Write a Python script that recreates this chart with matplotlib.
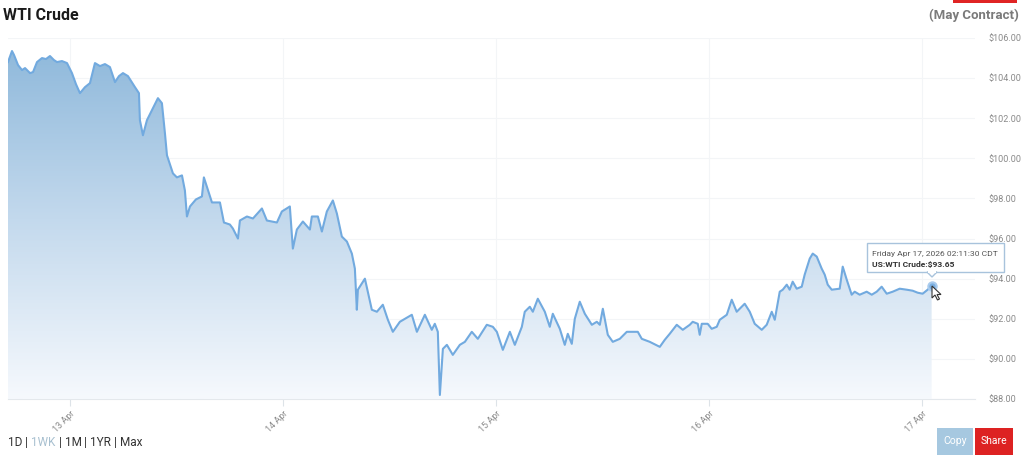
import numpy as np
import pandas as pd
import matplotlib
matplotlib.use("Agg")
import matplotlib.pyplot as plt
import matplotlib.dates as mdates
from matplotlib.colors import LinearSegmentedColormap
from matplotlib.patches import Rectangle, Polygon

plt.rcParams['font.family'] = ['Roboto', 'DejaVu Sans']

# hours since the Sunday 17:00 CDT session open (12 Apr 2026)
hours = [0.00, 0.45, 0.68, 1.13, 1.58, 1.92, 2.48, 2.82, 3.27, 3.83, 4.28, 4.73, 5.18, 5.52,
         6.08, 6.65, 7.21, 7.66, 8.11, 8.68, 9.24, 9.80, 10.37, 10.93, 11.49, 12.06, 12.51,
         12.96, 13.52, 14.31, 14.76, 14.87, 15.21, 15.66, 16.23, 16.90, 17.35, 17.69, 17.92,
         18.59, 19.04, 19.61, 19.94, 20.17, 20.51, 21.18, 21.86, 22.08, 22.99, 23.89, 24.34,
         25.01, 25.35, 25.92, 26.14, 26.93, 27.61, 28.62, 29.18, 30.31, 30.87, 31.77, 32.11,
         32.56, 33.24, 34.03, 34.25, 34.93, 35.38, 35.94, 36.62, 37.07, 37.63, 38.20, 38.76,
         39.10, 39.32, 39.44, 40.23, 40.56, 41.01, 41.58, 42.25, 42.82, 43.38, 44.17, 45.52,
         46.09, 46.99, 47.77, 48.11, 48.45, 48.68, 49.02, 49.47, 50.14, 50.93, 51.50, 52.28,
         52.96, 53.97, 54.65, 55.10, 55.78, 56.57, 57.13, 57.92, 58.25, 58.82, 59.16, 59.72,
         60.51, 61.07, 61.41, 62.20, 62.76, 63.10, 63.55, 63.89, 64.45, 65.02, 65.81, 66.37,
         66.71, 67.05, 67.61, 68.17, 68.96, 69.75, 70.99, 71.44, 72.34, 73.47, 74.03, 74.59,
         75.38, 76.06, 76.85, 77.18, 77.75, 77.97, 78.20, 78.87, 79.32, 79.89, 80.23, 81.02,
         81.58, 82.14, 83.04, 83.61, 84.17, 84.96, 85.52, 86.09, 86.43, 86.99, 87.33, 87.78,
         88.11, 88.45, 88.90, 89.47, 89.80, 90.37, 90.71, 91.16, 91.72, 92.06, 92.40, 92.85,
         93.75, 94.09, 94.54, 95.10, 95.44, 96.00, 96.79, 97.36, 97.92, 98.48, 99.05, 99.72,
         100.51, 101.30, 101.97, 102.54, 103.10, 103.66, 104.11]
prices = [104.80, 105.35, 105.15, 104.65, 104.40, 104.50, 104.25, 104.30, 104.80, 105.00, 104.95,
          105.10, 104.90, 104.80, 104.85, 104.75, 104.25, 103.70, 103.25, 103.55, 103.75, 104.75,
          104.60, 104.70, 104.55, 103.80, 104.10, 104.25, 104.10, 103.55, 103.25, 101.90, 101.15,
          101.90, 102.40, 103.00, 102.75, 101.25, 100.15, 99.25, 99.05, 99.15, 98.40, 97.10, 97.60,
          97.95, 98.10, 99.05, 97.80, 97.80, 96.80, 96.70, 96.50, 96.00, 96.90, 97.10, 97.00, 97.50,
          96.90, 96.80, 97.35, 97.60, 95.50, 96.45, 96.85, 96.45, 97.10, 97.10, 96.35, 97.35, 97.90,
          97.25, 96.10, 95.85, 95.25, 94.50, 92.45, 93.45, 94.00, 93.35, 92.45, 92.35, 92.70, 91.95,
          91.35, 91.85, 92.20, 91.35, 92.20, 91.45, 91.75, 91.35, 88.20, 90.50, 90.70, 90.20, 90.70,
          90.85, 91.35, 91.00, 91.70, 91.60, 91.35, 90.45, 91.35, 90.70, 91.60, 92.35, 92.60, 92.35,
          93.00, 92.35, 91.60, 92.25, 91.50, 90.70, 91.25, 90.75, 92.00, 92.85, 92.25, 91.70, 91.85,
          91.70, 92.50, 91.20, 90.85, 91.00, 91.35, 91.35, 91.00, 90.85, 90.60, 90.95, 91.25, 91.70,
          91.45, 91.70, 91.85, 91.75, 91.20, 91.75, 91.75, 91.50, 91.60, 91.95, 92.20, 92.95, 92.35,
          92.75, 92.35, 91.75, 91.45, 91.70, 92.35, 91.95, 93.35, 93.45, 93.70, 93.45, 93.85, 93.50,
          93.60, 94.20, 95.00, 95.25, 95.10, 94.50, 94.20, 93.70, 93.45, 93.50, 94.60, 93.95, 93.20,
          93.35, 93.20, 93.35, 93.20, 93.35, 93.60, 93.25, 93.35, 93.50, 93.45, 93.40, 93.30, 93.25,
          93.45, 93.65]
tick_days = ['2026-04-13', '2026-04-14', '2026-04-15', '2026-04-16', '2026-04-17']
y_ticks = [88, 90, 92, 94, 96, 98, 100, 102, 104, 106]
ranges = ['1D', '1WK', '1M', '1YR', 'Max']

start = pd.Timestamp('2026-04-12 17:00')
times = [start + pd.Timedelta(hours=h) for h in hours]
tx = mdates.date2num(times)
x0 = mdates.date2num(start)
x1 = mdates.date2num(start + pd.Timedelta(hours=109))


def fx(px):
    return px / 1024


def fy(py):
    return 1 - py / 462


fig = plt.figure(figsize=(10.24, 4.62), dpi=100)
ax = fig.add_axes([fx(8), fy(399), fx(975 - 8), (399 - 38) / 462])
ax.set_xlim(x0, x1)
ax.set_ylim(88, 106)

# gradient fill under the line
cmap = LinearSegmentedColormap.from_list('fill', ['#f6f9fd', '#c3d9ed', '#8cb7da'])
grad = np.linspace(0, 1, 256).reshape(-1, 1)
img = ax.imshow(grad, extent=[x0, x1, 88, 106], origin='lower', aspect='auto',
                cmap=cmap, zorder=1)
verts = [(tx[0], 88)] + list(zip(tx, prices)) + [(tx[-1], 88)]
poly = Polygon(verts, closed=True, facecolor='none', edgecolor='none')
ax.add_patch(poly)
img.set_clip_path(poly)
ax.plot(tx, prices, color='#72aadf', lw=1.5, zorder=3, solid_joinstyle='round')

# last point marker
ax.plot(tx[-1], prices[-1], 'o', ms=6, color='#7aaee0', mec='#a9cbed', mew=1.5, zorder=5)

# axes styling
for s in ['top', 'left', 'right']:
    ax.spines[s].set_visible(False)
ax.spines['bottom'].set_color('#e4e8ec')
ax.set_yticks(y_ticks)
ax.yaxis.tick_right()
ax.set_yticklabels(['${:.2f}'.format(v) for v in y_ticks])
ax.tick_params(axis='y', length=0, pad=10, labelsize=6.5, labelcolor='#8a8a8a')
ax.set_xticks(mdates.date2num(pd.to_datetime(tick_days)))
ax.xaxis.set_major_formatter(mdates.DateFormatter('%d Apr'))
ax.tick_params(axis='x', length=5, color='#dde3e8', labelsize=6.5, labelcolor='#8a8a8a', pad=2)
for lab in ax.get_xticklabels():
    lab.set_rotation(45)
    lab.set_ha('right')
    lab.set_rotation_mode('anchor')
ax.grid(True, color='#f3f5f7', lw=0.8, zorder=0)
ax.set_axisbelow(True)

# tooltip
fig.patches.append(Rectangle((fx(867), fy(272)), fx(137), 29 / 462, transform=fig.transFigure,
                             facecolor='white', edgecolor='#a8c3dc', lw=1, zorder=10))
fig.text(fx(872), fy(254), 'Friday Apr 17, 2026 02:11:30 CDT', fontsize=6.1,
         color='#555555', va='center', zorder=11)
fig.text(fx(872), fy(264), 'US:WTI Crude:$93.65', fontsize=6.1, fontweight='bold',
         color='#333333', va='center', zorder=11)
fig.patches.append(Polygon([(fx(927), fy(272)), (fx(937), fy(272)), (fx(932), fy(277))],
                           closed=True, transform=fig.transFigure, facecolor='white',
                           edgecolor='#a8c3dc', lw=1, zorder=10))
fig.patches.append(Rectangle((fx(928), fy(272.6)), fx(8), 1.6 / 462, transform=fig.transFigure,
                             facecolor='white', edgecolor='none', zorder=10.5))

# mouse cursor
cur = np.array([[0, 0], [0, 12], [3, 9], [5.5, 14], [7.5, 13], [5, 8.5], [9, 8.5]])
cx, cy = 932, 286
fig.patches.append(Polygon([(fx(cx + a), fy(cy + b)) for a, b in cur], closed=True,
                           transform=fig.transFigure, facecolor='white', edgecolor='#333333',
                           lw=0.8, zorder=12))

# titles
fig.text(fx(3), fy(15), 'WTI Crude', fontsize=11.5, fontweight='bold', color='#1a1a1a',
         va='center', ha='left')
fig.text(fx(1019), fy(15), '(May Contract)', fontsize=9.5, fontweight='bold', color='#7a7a7a',
         va='center', ha='right')
fig.patches.append(Rectangle((fx(953), fy(2.5)), fx(64), 2.5 / 462, transform=fig.transFigure,
                             facecolor='#e02424', edgecolor='none'))

# range selector
fig.canvas.draw()
rend = fig.canvas.get_renderer()
xpos = 8
for i, r in enumerate(ranges):
    col = '#a8c0d0' if r == '1WK' else '#333333'
    t = fig.text(fx(xpos), fy(442), r, fontsize=8.5, color=col, va='center', ha='left')
    xpos += t.get_window_extent(renderer=rend).width + 3
    if i < len(ranges) - 1:
        s = fig.text(fx(xpos), fy(442), '|', fontsize=8.5, color='#333333', va='center', ha='left')
        xpos += s.get_window_extent(renderer=rend).width + 3

# buttons
for bx, bw, col, lab in [(937, 36, '#a6c8e0', 'Copy'), (975, 38, '#dd2222', 'Share')]:
    fig.patches.append(Rectangle((fx(bx), fy(455)), fx(bw), 27 / 462, transform=fig.transFigure,
                                 facecolor=col, edgecolor='none'))
    fig.text(fx(bx + bw / 2), fy(441.5), lab, fontsize=7.5, color='white',
             ha='center', va='center')

fig.savefig('out.png', dpi=100, facecolor='white')
